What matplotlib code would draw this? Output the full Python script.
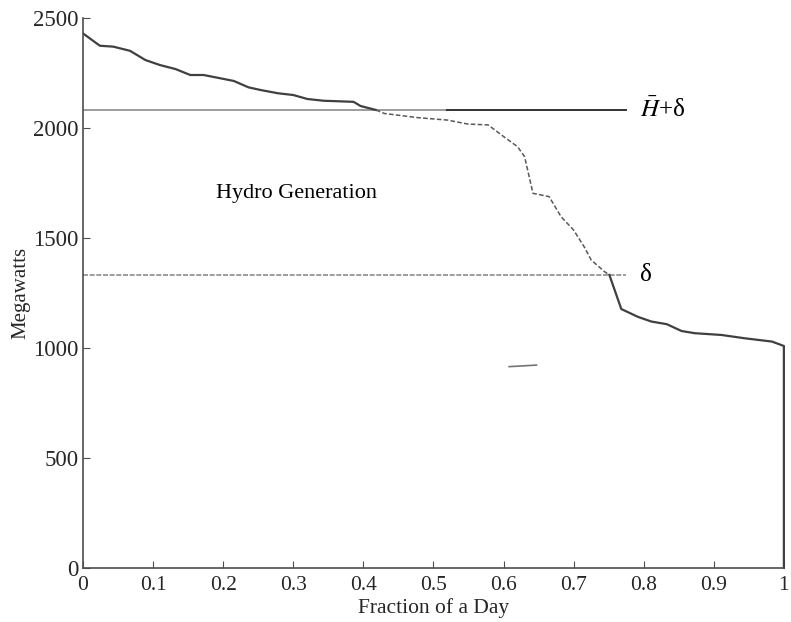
import matplotlib
matplotlib.use("Agg")
import matplotlib.pyplot as plt

plt.rcParams['font.family'] = ['Liberation Serif', 'DejaVu Serif']
plt.rcParams['mathtext.fontset'] = 'stix'

# load duration curve (fraction of day, MW)
x_upper = [0.0, 0.024, 0.043, 0.067, 0.089, 0.11, 0.132, 0.153, 0.172, 0.196,
           0.215, 0.236, 0.253, 0.278, 0.30, 0.32, 0.343, 0.386, 0.396, 0.418]
y_upper = [2430, 2374, 2370, 2351, 2309, 2286, 2268, 2241, 2241, 2226,
           2214, 2185, 2173, 2158, 2150, 2132, 2124, 2119, 2100, 2082]

x_mid = [0.418, 0.43, 0.478, 0.52, 0.549, 0.578, 0.601, 0.62, 0.63, 0.642,
         0.665, 0.682, 0.70, 0.716, 0.725, 0.744, 0.751]
y_mid = [2082, 2066, 2047, 2036, 2018, 2014, 1959, 1915, 1870, 1703,
         1688, 1597, 1536, 1455, 1400, 1347, 1332]

x_lower = [0.751, 0.768, 0.792, 0.811, 0.833, 0.854, 0.873, 0.911, 0.944,
           0.983, 1.0, 1.0]
y_lower = [1332, 1177, 1141, 1120, 1108, 1077, 1067, 1059, 1044,
           1029, 1009, 0]

H_plus_delta = 2082
delta = 1332
line_end = 0.775
stray_x = [0.608, 0.647]
stray_y = [915, 922]

fig = plt.figure(figsize=(7.91, 6.22), dpi=100)
ax = fig.add_axes([0.105, 0.087, 0.886, 0.884])

# horizontal reference levels
ax.plot([0, 0.52], [H_plus_delta, H_plus_delta], color='0.55', lw=1.2)
ax.plot([0.52, line_end], [H_plus_delta, H_plus_delta], color='0.2', lw=1.4)
ax.plot([0, line_end], [delta, delta], color='0.55', lw=1.2, ls=(0, (3, 1)))

ax.plot(x_upper, y_upper, color='0.25', lw=1.6)
ax.plot(x_mid, y_mid, color='0.35', lw=1.1, ls=(0, (3, 1.5)))
ax.plot(x_lower, y_lower, color='0.25', lw=1.6, clip_on=False)
ax.plot(stray_x, stray_y, color='0.45', lw=1.2)

ax.text(0.794, H_plus_delta, r'$\bar{H}$+δ', fontsize=18, va='center')
ax.text(0.794, delta, 'δ', fontsize=18, va='center')
ax.text(0.189, 1700, 'Hydro Generation', fontsize=16, va='center')

ax.set_xlim(0, 1)
ax.set_ylim(0, 2500)
ax.set_xticks([0, 0.1, 0.2, 0.3, 0.4, 0.5, 0.6, 0.7, 0.8, 0.9, 1])
ax.set_xticklabels(['0', '0.1', '0.2', '0.3', '0.4', '0.5', '0.6', '0.7',
                    '0.8', '0.9', '1'])
ax.set_yticks([0, 500, 1000, 1500, 2000, 2500])
ax.tick_params(direction='in', length=5, color='0.3', labelcolor='0.15')
ax.tick_params(axis='x', labelsize=15.5, pad=6)
ax.tick_params(axis='y', labelsize=16.5, pad=3)
for s in ['top', 'right']:
    ax.spines[s].set_visible(False)
for s in ['left', 'bottom']:
    ax.spines[s].set_color('0.3')
    ax.spines[s].set_linewidth(1.2)

ax.set_xlabel('Fraction of a Day', fontsize=15.5, color='0.15', labelpad=2)
ax.set_ylabel('Megawatts', fontsize=15, color='0.15', labelpad=2)

fig.savefig('out.png', dpi=100)
